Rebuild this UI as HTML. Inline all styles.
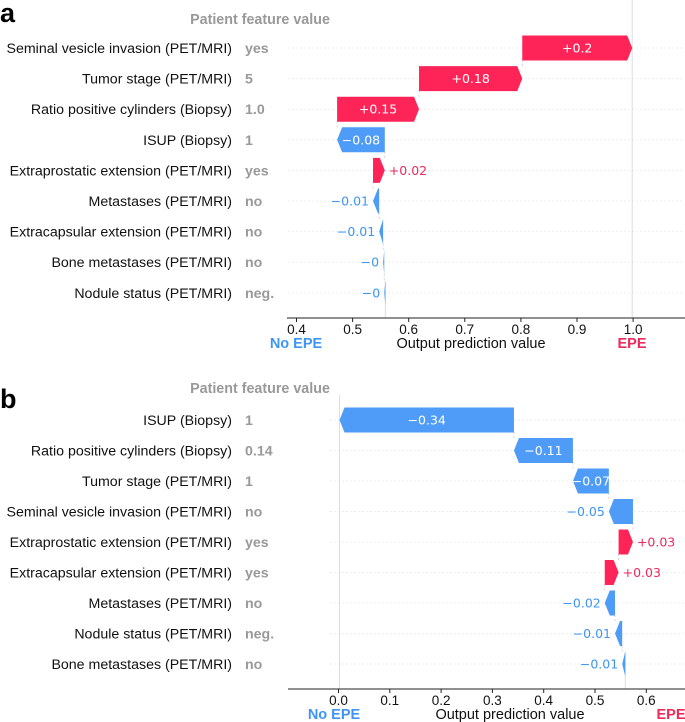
<!DOCTYPE html>
<html><head><meta charset="utf-8">
<style>
body{margin:0;background:#fff;}
svg{display:block;font-family:"Liberation Sans",Arial,sans-serif;}
</style></head>
<body>
<svg id="chart" width="685" height="722" viewBox="0 0 685 722"></svg>
<script>
// Panel a data (top to bottom)
const featuresA = ["Seminal vesicle invasion (PET/MRI)","Tumor stage (PET/MRI)","Ratio positive cylinders (Biopsy)","ISUP (Biopsy)","Extraprostatic extension (PET/MRI)","Metastases (PET/MRI)","Extracapsular extension (PET/MRI)","Bone metastases (PET/MRI)","Nodule status (PET/MRI)"];
const featureValuesA = ["yes","5","1.0","1","yes","no","no","no","neg."];
const shapA = [0.196,0.184,0.146,-0.085,0.021,-0.011,-0.007,-0.002,-0.002];
const shapLabelsA = ["+0.2","+0.18","+0.15","\u22120.08","+0.02","\u22120.01","\u22120.01","\u22120","\u22120"];
const baseA = 0.5584;
const ticksA = [0.4,0.5,0.6,0.7,0.8,0.9,1.0];
const tickLabelsA = ["0.4","0.5","0.6","0.7","0.8","0.9","1.0"];
// Panel b data
const featuresB = ["ISUP (Biopsy)","Ratio positive cylinders (Biopsy)","Tumor stage (PET/MRI)","Seminal vesicle invasion (PET/MRI)","Extraprostatic extension (PET/MRI)","Extracapsular extension (PET/MRI)","Metastases (PET/MRI)","Nodule status (PET/MRI)","Bone metastases (PET/MRI)"];
const featureValuesB = ["1","0.14","1","no","yes","yes","no","neg.","no"];
const shapB = [-0.34,-0.115,-0.07,-0.047,0.028,0.027,-0.02,-0.014,-0.006];
const shapLabelsB = ["\u22120.34","\u22120.11","\u22120.07","\u22120.05","+0.03","+0.03","\u22120.02","\u22120.01","\u22120.01"];
const baseB = 0.559;
const ticksB = [0.0,0.1,0.2,0.3,0.4,0.5,0.6];
const tickLabelsB = ["0.0","0.1","0.2","0.3","0.4","0.5","0.6"];

const NS="http://www.w3.org/2000/svg";
const svg=document.getElementById('chart');
const RED="#ff2457", BLUE="#4e9cf8", REDT="#ec2a5c", BLUET="#3f95f4";
function mk(tag,attrs,parent){const e=document.createElementNS(NS,tag);for(const k in attrs)e.setAttribute(k,attrs[k]);(parent||svg).appendChild(e);return e;}
function txt(s,x,y,attrs,parent){const t=mk('text',Object.assign({x:x,y:y},attrs),parent);t.textContent=s;return t;}

function panel(cfg){
  const g=mk('g',{});
  
  
  const xs=v=>cfg.x0+(v-cfg.v0)*cfg.k;
  const n=cfg.shap.length;
  const rowY=i=>cfg.y0+i*cfg.dy;
  const L=txt(cfg.letter,0,cfg.letterY,{'font-size':27,'font-weight':'bold',fill:'#000'},g);
  
  
  const H=txt("Patient feature value",260,cfg.headY,{'font-size':14.3,'font-weight':'bold',fill:'#999','text-anchor':'middle'},g);
  
  
  let ends=new Array(n),starts=new Array(n);let cur=cfg.base;
  for(let i=n-1;i>=0;i--){starts[i]=cur;cur+=cfg.shap[i];ends[i]=cur;}
  const fx=cur;
  const vl1=mk('line',{x1:xs(cfg.base),x2:xs(cfg.base),y1:rowY(n-1)-12,y2:cfg.axisY,stroke:'#ddd','stroke-width':1},g);
  
  
  const vl2=mk('line',{x1:xs(fx),x2:xs(fx),y1:cfg.topY,y2:cfg.axisY,stroke:'#ddd','stroke-width':1},g);
  
  
  for(let i=0;i<n;i++){
    const y=rowY(i);
    const gl=mk('line',{x1:cfg.x0-8,x2:684,y1:y,y2:y,stroke:'#ddd','stroke-width':1,'stroke-dasharray':'1,3'},g);
    
    
    const fl=txt(cfg.features[i],232,y+5,{'font-size':14.2,fill:'#111','text-anchor':'end'},g);
    
    
    const fv=txt(cfg.values[i],245,y+5,{'font-size':14.2,'font-weight':'bold',fill:'#999'},g);
    
    
    if(i<n-1){const cx=xs(starts[i]);const c=mk('line',{x1:cx,x2:cx,y1:y+12,y2:rowY(i+1)-12,stroke:'#ccc','stroke-width':0.8,'stroke-dasharray':'2,2'},g);
      
      }
    const a=xs(starts[i]),b=xs(ends[i]);const pos=cfg.shap[i]>0;
    const w=Math.abs(b-a);const hl=Math.min(5,w);const h=12.5;
    let pts;
    if(pos){pts=[[a,y-h],[b-hl,y-h],[b,y],[b-hl,y+h],[a,y+h]];}
    else{pts=[[a,y-h],[b+hl,y-h],[b,y],[b+hl,y+h],[a,y+h]];}
    const bar=mk('polygon',{points:pts.map(p=>p.join(',')).join(' '),fill:pos?RED:BLUE},g);
    
    
    let lt;
    if(w>30){lt=txt(cfg.labels[i],(a+b)/2,y+4.5,{'font-size':12.5,fill:'#fff','text-anchor':'middle','font-family':'"DejaVu Sans",sans-serif'},g);}
    else if(pos){lt=txt(cfg.labels[i],Math.max(a,b)+4,y+4.5,{'font-size':12.5,fill:REDT,'font-family':'"DejaVu Sans",sans-serif'},g);}
    else{lt=txt(cfg.labels[i],Math.min(a,b)-4,y+4.5,{'font-size':12.5,fill:BLUET,'text-anchor':'end','font-family':'"DejaVu Sans",sans-serif'},g);}
    
    
  }
  const ax=mk('line',{x1:cfg.axX0,x2:685,y1:cfg.axisY,y2:cfg.axisY,stroke:'#222','stroke-width':1},g);
  
  
  cfg.ticks.forEach((t,j)=>{
    const x=xs(t);
    const tk=mk('line',{x1:x,x2:x,y1:cfg.axisY,y2:cfg.axisY+4,stroke:'#222','stroke-width':1},g);
    
    
    const tl=txt(cfg.tickLabels[j],x,cfg.axisY+16,{'font-size':13.5,fill:'#111','text-anchor':'middle'},g);
    
    
  });
  const ne=txt("No EPE",cfg.noX,cfg.axisY+30,{'font-size':14.5,'font-weight':'bold',fill:BLUET,'text-anchor':'middle'},g);
  
  
  const xt=txt("Output prediction value",cfg.titleX,cfg.axisY+30,{'font-size':14.5,fill:'#111','text-anchor':'middle'},g);
  
  
  const ee=txt("EPE",cfg.epeX,cfg.axisY+30,{'font-size':14.5,'font-weight':'bold',fill:REDT,'text-anchor':'middle'},g);
  
  
}
panel({name:'panel-a',letter:'a',letterY:22,headY:24,features:featuresA,values:featureValuesA,shap:shapA,labels:shapLabelsA,base:baseA,
  ticks:ticksA,tickLabels:tickLabelsA,x0:296.5,v0:0.4,k:561,y0:48,dy:30.6,axisY:318,topY:0,axX0:287,noX:296,titleX:471,epeX:632});
panel({name:'panel-b',letter:'b',letterY:408,headY:393,features:featuresB,values:featureValuesB,shap:shapB,labels:shapLabelsB,base:baseB,
  ticks:ticksB,tickLabels:tickLabelsB,x0:338.5,v0:0,k:513,y0:420,dy:30.5,axisY:689,topY:395,axX0:288,noX:334,titleX:510,epeX:671});
</script>
</body></html>
